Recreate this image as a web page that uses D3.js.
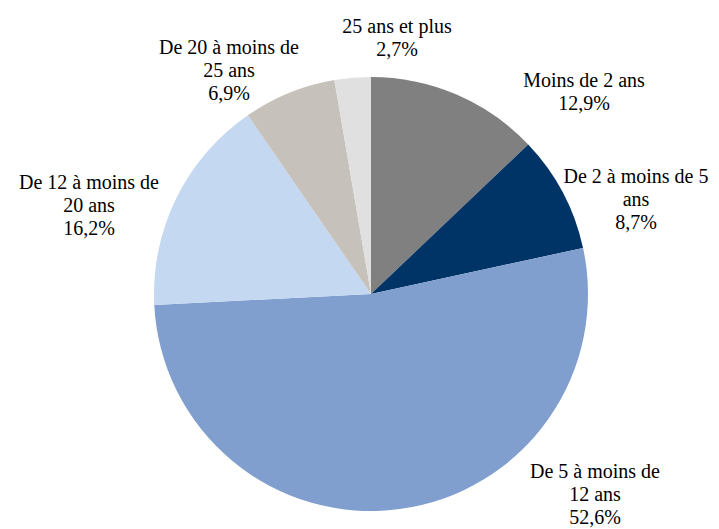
<!DOCTYPE html>
<html>
<head>
<meta charset="utf-8">
<script src="https://cdn.jsdelivr.net/npm/d3@7"></script>
<style>
  html, body { margin: 0; padding: 0; background: #fff; }
  svg { display: block; }
  .lbl { font-family: 'Liberation Serif', 'Times New Roman', Times, 'DejaVu Serif', serif; font-size: 20px; }
</style>
</head>
<body>
<div id="chart"></div>
<script>
'use strict';

// categories (clockwise from 12 o'clock) and their shares in %
var categories = ['Moins de 2 ans', 'De 2 à moins de 5 ans', 'De 5 à moins de 12 ans',
  'De 12 à moins de 20 ans', 'De 20 à moins de 25 ans', '25 ans et plus'];
var shares = [12.9, 8.7, 52.6, 16.2, 6.9, 2.7];

// label text as wrapped in the original
var labelLines = [
  ['Moins de 2 ans'],
  ['De 2 à moins de 5', 'ans'],
  ['De 5 à moins de', '12 ans'],
  ['De 12 à moins de', '20 ans'],
  ['De 20 à moins de', '25 ans'],
  ['25 ans et plus']
];

var colors = ['#808080', '#003366', '#809fcf', '#c5d8f1', '#c6c1ba', '#e0e0e0'];

// layout: centre of each label block (px)
var labelAt = [[584, 91], [636, 199], [595, 494], [89, 205], [229, 70], [397, 37]];

var width = 719, height = 529;
var cx = 371, cy = 294, radius = 217;
var lineH = 23;

var svg = d3.select('#chart').append('svg')
  .attr('width', width)
  .attr('height', height);

var pie = d3.pie().sort(null).value(function (d) { return d; });
var arc = d3.arc().innerRadius(0).outerRadius(radius);

var data = pie(shares);

svg.append('g')
  .attr('transform', 'translate(' + cx + ',' + cy + ')')
  .selectAll('path')
  .data(data)
  .join('path')
  .attr('d', arc)
  .attr('fill', function (d, i) { return colors[i]; });

var fmt = function (v) { return v.toFixed(1).replace('.', ',') + '%'; };

var labels = svg.append('g')
  .attr('fill', '#000')
  .attr('text-anchor', 'middle')
  .selectAll('text')
  .data(data)
  .join('text')
  .attr('class', 'lbl');

labels.each(function (d, i) {
  var lines = labelLines[i].concat([fmt(shares[i])]);
  var x = labelAt[i][0];
  var y0 = labelAt[i][1] - (lines.length - 1) * lineH / 2;
  var t = d3.select(this);
  lines.forEach(function (ln, k) {
    t.append('tspan')
      .attr('x', x)
      .attr('y', y0 + k * lineH)
      .attr('dy', '0.35em')
      .text(ln);
  });
});
</script>
</body>
</html>
